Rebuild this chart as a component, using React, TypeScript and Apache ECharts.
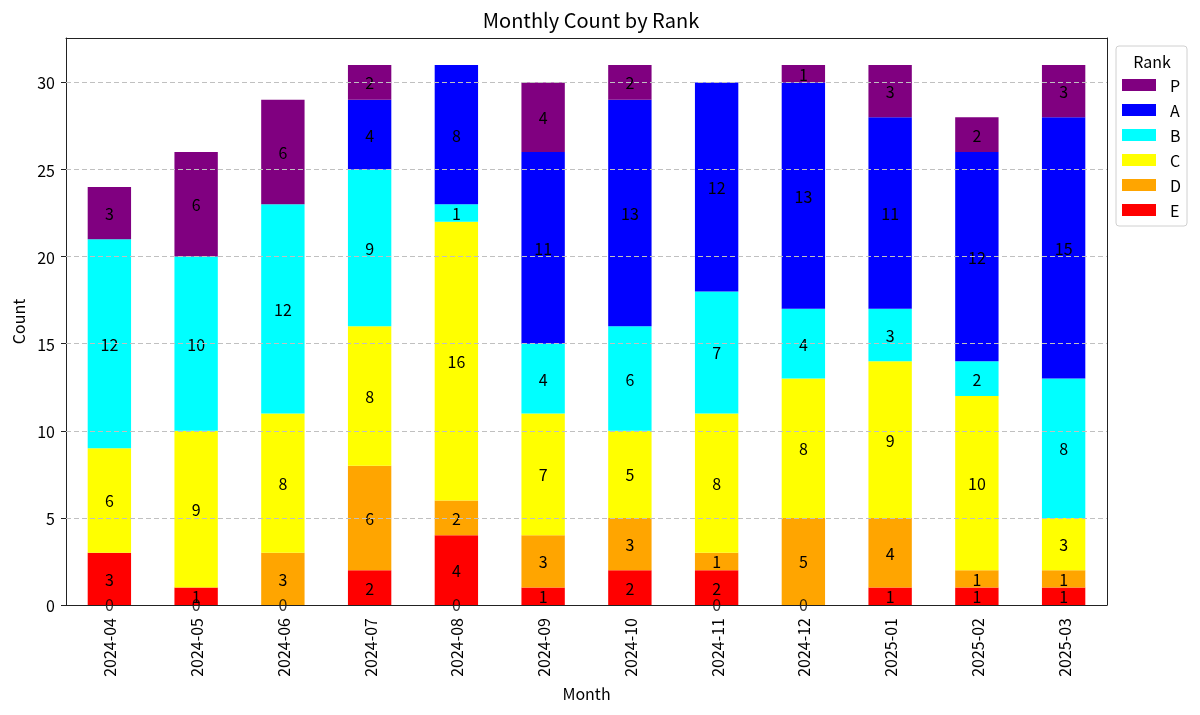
import React, { useEffect, useRef } from "react";
import * as echarts from "echarts";

const months = ["2024-04", "2024-05", "2024-06", "2024-07", "2024-08", "2024-09", "2024-10", "2024-11", "2024-12", "2025-01", "2025-02", "2025-03"];
const rankE = [3, 1, 0, 2, 4, 1, 2, 2, 0, 1, 1, 1];
const rankD = [0, 0, 3, 6, 2, 3, 3, 1, 5, 4, 1, 1];
const rankC = [6, 9, 8, 8, 16, 7, 5, 8, 8, 9, 10, 3];
const rankB = [12, 10, 12, 9, 1, 4, 6, 7, 4, 3, 2, 8];
const rankA = [0, 0, 0, 4, 8, 11, 13, 12, 13, 11, 12, 15];
const rankP = [3, 6, 6, 2, 0, 4, 2, 0, 1, 3, 2, 3];
const legendOrder = ["P", "A", "B", "C", "D", "E"];
const yTicks = [0, 5, 10, 15, 20, 25, 30];
const yMax = 32.55;

const FONT = "Noto Sans CJK JP";
const FS = 16;

export default function App() {
  const ref = useRef<HTMLDivElement>(null);
  useEffect(() => {
    if (!ref.current) return;
    const chart = echarts.init(ref.current, undefined, { renderer: "svg" });
    const stackSeries = [
      { name: "E", data: rankE, color: "#FF0000" },
      { name: "D", data: rankD, color: "#FFA500" },
      { name: "C", data: rankC, color: "#FFFF00" },
      { name: "B", data: rankB, color: "#00FFFF" },
      { name: "A", data: rankA, color: "#0000FF" },
      { name: "P", data: rankP, color: "#800080" },
    ];
    const zeroPoints = months
      .map((m, i) => {
        const anyZero = stackSeries.some((s) => s.data[i] === 0);
        return anyZero ? [m, 0] : null;
      })
      .filter((d) => d !== null);

    const axisColor = "#222";

    chart.setOption({
      animation: false,
      textStyle: { fontFamily: FONT },
      title: {
        text: "Monthly Count by Rank",
        left: 586,
        textAlign: "center",
        top: 4,
        textStyle: { fontFamily: FONT, fontSize: 20, fontWeight: "normal", color: "#000" },
      },
      grid: {
        left: 66,
        top: 38,
        right: 93,
        bottom: 110,
      },
      legend: {
        data: legendOrder,
        orient: "vertical",
        left: 1122,
        top: 77,
        itemWidth: 34,
        itemHeight: 12,
        itemGap: 9,
        padding: 0,
        icon: "rect",
        textStyle: { fontFamily: FONT, fontSize: FS, color: "#000", padding: [0, 0, 0, 9] },
      },
      graphic: [
        {
          type: "rect",
          shape: { x: 1116, y: 46, width: 71, height: 180, r: 3 },
          style: { fill: "#fff", stroke: "#d0d0d0", lineWidth: 1 },
          z: -1,
        },
        {
          type: "text",
          x: 1152,
          y: 61,
          style: { text: "Rank", fontFamily: FONT, fontSize: FS, fill: "#000", textAlign: "center", textVerticalAlign: "middle" },
        },
      ],
      xAxis: [
        {
          type: "category",
          data: months,
          name: "Month",
          nameLocation: "middle",
          nameGap: 76,
          z: 4,
          nameTextStyle: { fontFamily: FONT, fontSize: FS, color: "#000" },
          axisLine: { onZero: false, lineStyle: { color: axisColor } },
          axisTick: { alignWithLabel: true, length: 5, lineStyle: { color: axisColor } },
          axisLabel: { rotate: 90, fontFamily: FONT, fontSize: FS, color: "#000", margin: 13 },
        },
        {
          type: "category",
          data: months,
          position: "top",
          z: 4,
          axisLine: { show: true, onZero: false, lineStyle: { color: axisColor } },
          axisTick: { show: false },
          axisLabel: { show: false },
        },
      ],
      yAxis: [
        {
          type: "value",
          min: 0,
          max: yMax,
          interval: 5,
          z: 4,
          name: "Count",
          nameLocation: "middle",
          nameGap: 38,
          nameTextStyle: { fontFamily: FONT, fontSize: FS, color: "#000" },
          axisLine: { show: true, onZero: false, lineStyle: { color: axisColor } },
          axisTick: { show: true, length: 5, lineStyle: { color: axisColor }, customValues: yTicks },
          axisLabel: {
            fontFamily: FONT,
            fontSize: FS,
            color: "#000",
            margin: 11,
            customValues: yTicks,
            formatter: (v: number) => (yTicks.includes(v) ? String(v) : ""),
          },
          splitLine: { show: false },
        },
        {
          type: "value",
          min: 0,
          max: yMax,
          interval: 5,
          position: "right",
          z: 4,
          axisLine: { show: true, onZero: false, lineStyle: { color: axisColor } },
          axisTick: { show: false },
          axisLabel: { show: false },
          splitLine: { show: false },
        },
      ],
      series: [
        ...stackSeries.map((s) => ({
          name: s.name,
          type: "bar",
          stack: "total",
          barWidth: "50%",
          data: s.data,
          itemStyle: { color: s.color },
          label: {
            show: true,
            position: "inside",
            fontFamily: FONT,
            fontSize: FS,
            color: "#000",
            formatter: (p: any) => (p.value === 0 ? "" : String(p.value)),
          },
        })),
        {
          name: "zeros",
          type: "scatter",
          data: zeroPoints,
          symbolSize: 0,
          z: 3,
          silent: true,
          label: {
            show: true,
            position: "inside",
            offset: [0, -1],
            fontFamily: FONT,
            fontSize: FS,
            color: "#000",
            formatter: () => "0",
          },
          markLine: {
            silent: true,
            symbol: "none",
            label: { show: false },
            lineStyle: { color: "#c0c0c0", type: [5, 3], width: 1 },
            data: yTicks.filter((v) => v > 0).map((v) => ({ yAxis: v })),
          },
        },
      ],
    });
    return () => chart.dispose();
  }, []);
  return <div ref={ref} style={{ position: "fixed", left: 0, top: 0, width: 1200, height: 715 }} />;
}
